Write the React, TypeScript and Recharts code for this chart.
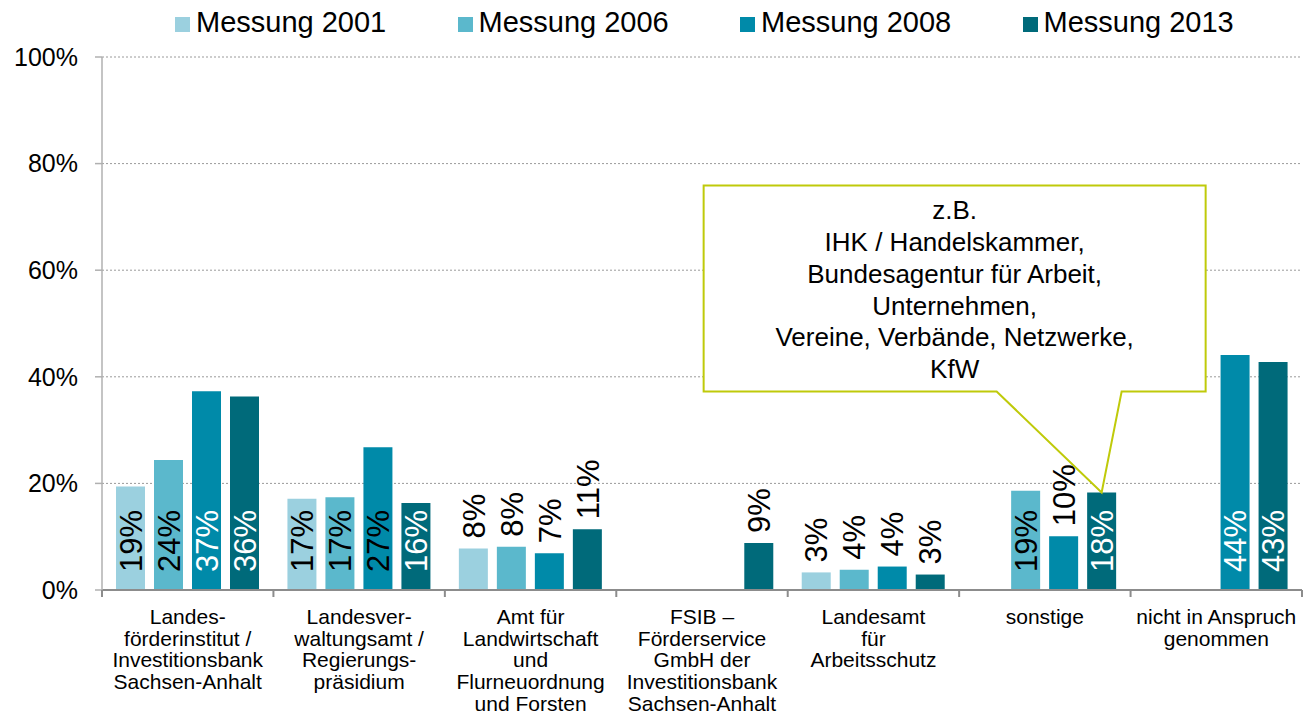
import React from 'react';
import {
  BarChart,
  Bar,
  XAxis,
  YAxis,
  CartesianGrid,
  Legend,
  LabelList,
} from 'recharts';

const CATEGORIES = [
  'Landes-\nförderinstitut /\nInvestitionsbank\nSachsen-Anhalt',
  'Landesver-\nwaltungsamt /\nRegierungs-\npräsidium',
  'Amt für\nLandwirtschaft\nund\nFlurneuordnung\nund Forsten',
  'FSIB –\nFörderservice\nGmbH der\nInvestitionsbank\nSachsen-Anhalt',
  'Landesamt\nfür\nArbeitsschutz',
  'sonstige',
  'nicht in Anspruch\ngenommen',
];

const M2001 = [19.4, 17.1, 7.8, null, 3.3, null, null];
const M2006 = [24.4, 17.4, 8.1, null, 3.8, 18.6, null];
const M2008 = [37.3, 26.8, 6.9, null, 4.4, 10.1, 44.1];
const M2013 = [36.3, 16.3, 11.4, 8.8, 2.9, 18.3, 42.8];

const SERIES = [
  { key: 'm2001', label: 'Messung 2001', values: M2001, color: '#9BD0DF' },
  { key: 'm2006', label: 'Messung 2006', values: M2006, color: '#5BB8CC' },
  { key: 'm2008', label: 'Messung 2008', values: M2008, color: '#008AA9' },
  { key: 'm2013', label: 'Messung 2013', values: M2013, color: '#006A7A' },
];

const Y_TICKS = [0, 20, 40, 60, 80, 100];

const CALLOUT_CATEGORY = 'sonstige';
const CALLOUT_SERIES = 'm2013';
const CALLOUT_LINES = [
  'z.B.',
  'IHK / Handelskammer,',
  'Bundesagentur für Arbeit,',
  'Unternehmen,',
  'Vereine, Verbände, Netzwerke,',
  'KfW',
];

const W = 1305;
const H = 722;
const MARGIN = { top: 17, right: 3, bottom: 0, left: 0 };
const Y_AXIS_W = 102;
const X_AXIS_H = 132;
const FONT = '"Liberation Sans", Arial, sans-serif';
const BAND = (W - MARGIN.left - MARGIN.right - Y_AXIS_W) / CATEGORIES.length;

const data = CATEGORIES.map((name, i) => {
  const row: Record<string, string | number | null> = { name };
  SERIES.forEach((s) => {
    row[s.key] = s.values[i];
  });
  return row;
});

function CategoryTick(props: any) {
  const { x, y, payload, index } = props;
  const lines = String(payload.value).split('\n');
  return (
    <g>
      <line x1={x - BAND / 2} x2={x - BAND / 2} y1={y} y2={y + 7} stroke="#8c8c8c" strokeWidth={2} />
      {index === CATEGORIES.length - 1 && (
        <line x1={x + BAND / 2} x2={x + BAND / 2} y1={y} y2={y + 7} stroke="#8c8c8c" strokeWidth={2} />
      )}
      <text x={x} y={y + 34} textAnchor="middle" fontSize={21} fontFamily={FONT} fill="#000">
        {lines.map((l, i) => (
          <tspan key={i} x={x} dy={i === 0 ? 0 : 21.7}>
            {l}
          </tspan>
        ))}
      </text>
    </g>
  );
}

function Callout({ tx, ty }: { tx: number; ty: number }) {
  const left = tx - 398;
  const right = tx + 104;
  const top = ty - 307;
  const bottom = ty - 101;
  const cx = (left + right) / 2;
  const path = [
    `M${left},${top}`,
    `L${right},${top}`,
    `L${right},${bottom}`,
    `L${tx + 20},${bottom}`,
    `L${tx},${ty}`,
    `L${tx - 105},${bottom}`,
    `L${left},${bottom}`,
    'Z',
  ].join(' ');
  return (
    <g>
      <path d={path} fill="#fff" stroke="#BFCA0A" strokeWidth={2} />
      <text x={cx} y={top + 34} textAnchor="middle" fontSize={26} fontFamily={FONT} fill="#000">
        {CALLOUT_LINES.map((l, i) => (
          <tspan key={i} x={cx} dy={i === 0 ? 0 : 31.7}>
            {l}
          </tspan>
        ))}
      </text>
    </g>
  );
}

function makeLabel(seriesKey: string) {
  return (props: any) => {
    const vb = props.viewBox || {};
    const x = props.x ?? vb.x;
    const y = props.y ?? vb.y;
    const width = props.width ?? vb.width;
    const height = props.height ?? vb.height;
    const { value, index } = props;
    if (value == null || x == null) return null;
    const cx = x + width / 2;
    const inside = value >= 15;
    let color = '#000';
    if (inside && (seriesKey === 'm2013' || (seriesKey === 'm2008' && value > 30))) color = '#fff';
    const anchorY = inside ? y + height - 18 : y - 10;
    const showCallout = seriesKey === CALLOUT_SERIES && CATEGORIES[index] === CALLOUT_CATEGORY;
    return (
      <g>
        <text
          transform={`translate(${cx},${anchorY}) rotate(-90)`}
          dy="0.36em"
          textAnchor="start"
          fontSize={31}
          fontFamily={FONT}
          fill={color}
        >
          {Math.round(value)}%
        </text>
        {showCallout && <Callout tx={cx} ty={y} />}
      </g>
    );
  };
}

function LegendContent() {
  return (
    <div style={{ height: 40, display: 'flex', alignItems: 'center', paddingLeft: 175, fontFamily: FONT }}>
      {SERIES.map((s) => (
        <div key={s.key} style={{ width: 287, display: 'flex', alignItems: 'center' }}>
          <span style={{ width: 15, height: 15, background: s.color, marginRight: 6, marginTop: 4 }} />
          <span style={{ fontSize: 29, color: '#000' }}>{s.label}</span>
        </div>
      ))}
    </div>
  );
}

export default function App() {
  return (
    <div style={{ position: 'absolute', left: 0, top: 0, background: '#fff' }}>
      <BarChart width={W} height={H} data={data} margin={MARGIN} barCategoryGap={14} barGap={9}>
        <CartesianGrid vertical={false} stroke="#9a9a9a" strokeDasharray="2 2" />
        <Legend
          verticalAlign="top"
          content={<LegendContent />}
          wrapperStyle={{ top: 2, left: 0, width: W }}
        />
        <XAxis
          dataKey="name"
          interval={0}
          height={X_AXIS_H}
          tickLine={false}
          tickSize={0}
          tickMargin={0}
          axisLine={{ stroke: '#8c8c8c', strokeWidth: 2 }}
          tick={<CategoryTick />}
        />
        <YAxis
          width={Y_AXIS_W}
          domain={[0, 100]}
          ticks={Y_TICKS}
          tickFormatter={(v) => `${v}%`}
          tickSize={7}
          tickMargin={17}
          axisLine={{ stroke: '#b0b0b0', strokeWidth: 1.5 }}
          tickLine={{ stroke: '#b0b0b0', strokeWidth: 1.5 }}
          tick={{ fontSize: 25, fill: '#000', fontFamily: FONT }}
        />
        {SERIES.map((s) => (
          <Bar key={s.key} dataKey={s.key} name={s.label} fill={s.color} isAnimationActive={false}>
            <LabelList dataKey={s.key} content={makeLabel(s.key)} />
          </Bar>
        ))}
      </BarChart>
    </div>
  );
}
